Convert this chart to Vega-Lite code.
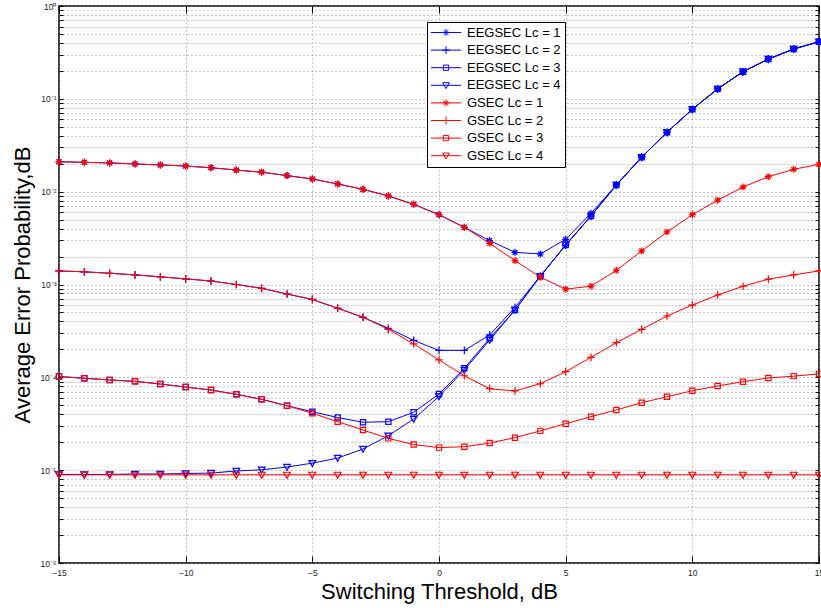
{
"$schema": "https://vega.github.io/schema/vega-lite/v6.json",
"width": 760, "height": 557,
"autosize": {"type": "none"},
"padding": {"left": 59, "top": 6, "right": 2, "bottom": 45},
"background": "white",
"config": {"font": "Liberation Sans", "view": {"stroke": "black", "strokeWidth": 1.5}},
"data": {"values": [
{"s":"EEGSEC Lc = 1","x":-15,"y":0.021},{"s":"EEGSEC Lc = 1","x":-14,"y":0.0207},{"s":"EEGSEC Lc = 1","x":-13,"y":0.0204},{"s":"EEGSEC Lc = 1","x":-12,"y":0.0199},{"s":"EEGSEC Lc = 1","x":-11,"y":0.0194},{"s":"EEGSEC Lc = 1","x":-10,"y":0.0189},{"s":"EEGSEC Lc = 1","x":-9,"y":0.0181},{"s":"EEGSEC Lc = 1","x":-8,"y":0.0171},{"s":"EEGSEC Lc = 1","x":-7,"y":0.0162},{"s":"EEGSEC Lc = 1","x":-6,"y":0.0149},{"s":"EEGSEC Lc = 1","x":-5,"y":0.0137},{"s":"EEGSEC Lc = 1","x":-4,"y":0.0121},{"s":"EEGSEC Lc = 1","x":-3,"y":0.0106},{"s":"EEGSEC Lc = 1","x":-2,"y":0.009},{"s":"EEGSEC Lc = 1","x":-1,"y":0.0073},{"s":"EEGSEC Lc = 1","x":0,"y":0.00565},{"s":"EEGSEC Lc = 1","x":1,"y":0.00413},{"s":"EEGSEC Lc = 1","x":2,"y":0.00297},{"s":"EEGSEC Lc = 1","x":3,"y":0.00222},{"s":"EEGSEC Lc = 1","x":4,"y":0.00213},{"s":"EEGSEC Lc = 1","x":5,"y":0.00307},{"s":"EEGSEC Lc = 1","x":6,"y":0.00585},{"s":"EEGSEC Lc = 1","x":7,"y":0.0118},{"s":"EEGSEC Lc = 1","x":8,"y":0.0235},{"s":"EEGSEC Lc = 1","x":9,"y":0.0436},{"s":"EEGSEC Lc = 1","x":10,"y":0.0772},{"s":"EEGSEC Lc = 1","x":11,"y":0.128},{"s":"EEGSEC Lc = 1","x":12,"y":0.196},{"s":"EEGSEC Lc = 1","x":13,"y":0.268},{"s":"EEGSEC Lc = 1","x":14,"y":0.344},{"s":"EEGSEC Lc = 1","x":15,"y":0.412},
{"s":"EEGSEC Lc = 2","x":-15,"y":0.0014},{"s":"EEGSEC Lc = 2","x":-14,"y":0.00137},{"s":"EEGSEC Lc = 2","x":-13,"y":0.00132},{"s":"EEGSEC Lc = 2","x":-12,"y":0.00127},{"s":"EEGSEC Lc = 2","x":-11,"y":0.00121},{"s":"EEGSEC Lc = 2","x":-10,"y":0.00115},{"s":"EEGSEC Lc = 2","x":-9,"y":0.00109},{"s":"EEGSEC Lc = 2","x":-8,"y":0.001},{"s":"EEGSEC Lc = 2","x":-7,"y":0.00091},{"s":"EEGSEC Lc = 2","x":-6,"y":0.00079},{"s":"EEGSEC Lc = 2","x":-5,"y":0.00069},{"s":"EEGSEC Lc = 2","x":-4,"y":0.000555},{"s":"EEGSEC Lc = 2","x":-3,"y":0.000444},{"s":"EEGSEC Lc = 2","x":-2,"y":0.000338},{"s":"EEGSEC Lc = 2","x":-1,"y":0.00025},{"s":"EEGSEC Lc = 2","x":0,"y":0.000195},{"s":"EEGSEC Lc = 2","x":1,"y":0.000195},{"s":"EEGSEC Lc = 2","x":2,"y":0.000286},{"s":"EEGSEC Lc = 2","x":3,"y":0.000568},{"s":"EEGSEC Lc = 2","x":4,"y":0.00123},{"s":"EEGSEC Lc = 2","x":5,"y":0.00266},{"s":"EEGSEC Lc = 2","x":6,"y":0.00547},{"s":"EEGSEC Lc = 2","x":7,"y":0.0118},{"s":"EEGSEC Lc = 2","x":8,"y":0.0235},{"s":"EEGSEC Lc = 2","x":9,"y":0.0436},{"s":"EEGSEC Lc = 2","x":10,"y":0.0772},{"s":"EEGSEC Lc = 2","x":11,"y":0.128},{"s":"EEGSEC Lc = 2","x":12,"y":0.196},{"s":"EEGSEC Lc = 2","x":13,"y":0.268},{"s":"EEGSEC Lc = 2","x":14,"y":0.344},{"s":"EEGSEC Lc = 2","x":15,"y":0.412},
{"s":"EEGSEC Lc = 3","x":-15,"y":0.000102},{"s":"EEGSEC Lc = 3","x":-14,"y":0.0000977},{"s":"EEGSEC Lc = 3","x":-13,"y":0.0000936},{"s":"EEGSEC Lc = 3","x":-12,"y":0.0000906},{"s":"EEGSEC Lc = 3","x":-11,"y":0.0000847},{"s":"EEGSEC Lc = 3","x":-10,"y":0.0000786},{"s":"EEGSEC Lc = 3","x":-9,"y":0.000073},{"s":"EEGSEC Lc = 3","x":-8,"y":0.0000656},{"s":"EEGSEC Lc = 3","x":-7,"y":0.000058},{"s":"EEGSEC Lc = 3","x":-6,"y":0.0000494},{"s":"EEGSEC Lc = 3","x":-5,"y":0.0000426},{"s":"EEGSEC Lc = 3","x":-4,"y":0.0000369},{"s":"EEGSEC Lc = 3","x":-3,"y":0.0000328},{"s":"EEGSEC Lc = 3","x":-2,"y":0.0000333},{"s":"EEGSEC Lc = 3","x":-1,"y":0.000042},{"s":"EEGSEC Lc = 3","x":0,"y":0.0000661},{"s":"EEGSEC Lc = 3","x":1,"y":0.000125},{"s":"EEGSEC Lc = 3","x":2,"y":0.000263},{"s":"EEGSEC Lc = 3","x":3,"y":0.000531},{"s":"EEGSEC Lc = 3","x":4,"y":0.00123},{"s":"EEGSEC Lc = 3","x":5,"y":0.00266},{"s":"EEGSEC Lc = 3","x":6,"y":0.00547},{"s":"EEGSEC Lc = 3","x":7,"y":0.0118},{"s":"EEGSEC Lc = 3","x":8,"y":0.0235},{"s":"EEGSEC Lc = 3","x":9,"y":0.0436},{"s":"EEGSEC Lc = 3","x":10,"y":0.0772},{"s":"EEGSEC Lc = 3","x":11,"y":0.128},{"s":"EEGSEC Lc = 3","x":12,"y":0.196},{"s":"EEGSEC Lc = 3","x":13,"y":0.268},{"s":"EEGSEC Lc = 3","x":14,"y":0.344},{"s":"EEGSEC Lc = 3","x":15,"y":0.412},
{"s":"EEGSEC Lc = 4","x":-15,"y":0.000009},{"s":"EEGSEC Lc = 4","x":-14,"y":0.000009},{"s":"EEGSEC Lc = 4","x":-13,"y":0.000009},{"s":"EEGSEC Lc = 4","x":-12,"y":0.0000091},{"s":"EEGSEC Lc = 4","x":-11,"y":0.0000091},{"s":"EEGSEC Lc = 4","x":-10,"y":0.0000092},{"s":"EEGSEC Lc = 4","x":-9,"y":0.0000093},{"s":"EEGSEC Lc = 4","x":-8,"y":0.0000098},{"s":"EEGSEC Lc = 4","x":-7,"y":0.0000101},{"s":"EEGSEC Lc = 4","x":-6,"y":0.0000108},{"s":"EEGSEC Lc = 4","x":-5,"y":0.0000119},{"s":"EEGSEC Lc = 4","x":-4,"y":0.0000135},{"s":"EEGSEC Lc = 4","x":-3,"y":0.0000169},{"s":"EEGSEC Lc = 4","x":-2,"y":0.0000235},{"s":"EEGSEC Lc = 4","x":-1,"y":0.0000356},{"s":"EEGSEC Lc = 4","x":0,"y":0.0000621},{"s":"EEGSEC Lc = 4","x":1,"y":0.00012},{"s":"EEGSEC Lc = 4","x":2,"y":0.000252},{"s":"EEGSEC Lc = 4","x":3,"y":0.000531},{"s":"EEGSEC Lc = 4","x":4,"y":0.00123},{"s":"EEGSEC Lc = 4","x":5,"y":0.00266},{"s":"EEGSEC Lc = 4","x":6,"y":0.00547},{"s":"EEGSEC Lc = 4","x":7,"y":0.0118},{"s":"EEGSEC Lc = 4","x":8,"y":0.0235},{"s":"EEGSEC Lc = 4","x":9,"y":0.0436},{"s":"EEGSEC Lc = 4","x":10,"y":0.0772},{"s":"EEGSEC Lc = 4","x":11,"y":0.128},{"s":"EEGSEC Lc = 4","x":12,"y":0.196},{"s":"EEGSEC Lc = 4","x":13,"y":0.268},{"s":"EEGSEC Lc = 4","x":14,"y":0.344},{"s":"EEGSEC Lc = 4","x":15,"y":0.412},
{"s":"GSEC Lc = 1","x":-15,"y":0.021},{"s":"GSEC Lc = 1","x":-14,"y":0.0207},{"s":"GSEC Lc = 1","x":-13,"y":0.0204},{"s":"GSEC Lc = 1","x":-12,"y":0.0199},{"s":"GSEC Lc = 1","x":-11,"y":0.0194},{"s":"GSEC Lc = 1","x":-10,"y":0.0189},{"s":"GSEC Lc = 1","x":-9,"y":0.0181},{"s":"GSEC Lc = 1","x":-8,"y":0.0171},{"s":"GSEC Lc = 1","x":-7,"y":0.0162},{"s":"GSEC Lc = 1","x":-6,"y":0.0149},{"s":"GSEC Lc = 1","x":-5,"y":0.0137},{"s":"GSEC Lc = 1","x":-4,"y":0.0121},{"s":"GSEC Lc = 1","x":-3,"y":0.0106},{"s":"GSEC Lc = 1","x":-2,"y":0.009},{"s":"GSEC Lc = 1","x":-1,"y":0.0073},{"s":"GSEC Lc = 1","x":0,"y":0.00565},{"s":"GSEC Lc = 1","x":1,"y":0.00413},{"s":"GSEC Lc = 1","x":2,"y":0.00278},{"s":"GSEC Lc = 1","x":3,"y":0.00181},{"s":"GSEC Lc = 1","x":4,"y":0.0012},{"s":"GSEC Lc = 1","x":5,"y":0.00089},{"s":"GSEC Lc = 1","x":6,"y":0.00096},{"s":"GSEC Lc = 1","x":7,"y":0.00142},{"s":"GSEC Lc = 1","x":8,"y":0.0023},{"s":"GSEC Lc = 1","x":9,"y":0.00368},{"s":"GSEC Lc = 1","x":10,"y":0.00565},{"s":"GSEC Lc = 1","x":11,"y":0.0081},{"s":"GSEC Lc = 1","x":12,"y":0.0112},{"s":"GSEC Lc = 1","x":13,"y":0.0145},{"s":"GSEC Lc = 1","x":14,"y":0.0174},{"s":"GSEC Lc = 1","x":15,"y":0.0197},
{"s":"GSEC Lc = 2","x":-15,"y":0.0014},{"s":"GSEC Lc = 2","x":-14,"y":0.00137},{"s":"GSEC Lc = 2","x":-13,"y":0.00132},{"s":"GSEC Lc = 2","x":-12,"y":0.00127},{"s":"GSEC Lc = 2","x":-11,"y":0.00121},{"s":"GSEC Lc = 2","x":-10,"y":0.00115},{"s":"GSEC Lc = 2","x":-9,"y":0.00109},{"s":"GSEC Lc = 2","x":-8,"y":0.001},{"s":"GSEC Lc = 2","x":-7,"y":0.00091},{"s":"GSEC Lc = 2","x":-6,"y":0.00079},{"s":"GSEC Lc = 2","x":-5,"y":0.00069},{"s":"GSEC Lc = 2","x":-4,"y":0.000555},{"s":"GSEC Lc = 2","x":-3,"y":0.000444},{"s":"GSEC Lc = 2","x":-2,"y":0.000329},{"s":"GSEC Lc = 2","x":-1,"y":0.000229},{"s":"GSEC Lc = 2","x":0,"y":0.000154},{"s":"GSEC Lc = 2","x":1,"y":0.000104},{"s":"GSEC Lc = 2","x":2,"y":0.0000754},{"s":"GSEC Lc = 2","x":3,"y":0.0000713},{"s":"GSEC Lc = 2","x":4,"y":0.0000853},{"s":"GSEC Lc = 2","x":5,"y":0.000115},{"s":"GSEC Lc = 2","x":6,"y":0.000164},{"s":"GSEC Lc = 2","x":7,"y":0.000236},{"s":"GSEC Lc = 2","x":8,"y":0.000329},{"s":"GSEC Lc = 2","x":9,"y":0.000458},{"s":"GSEC Lc = 2","x":10,"y":0.000601},{"s":"GSEC Lc = 2","x":11,"y":0.000771},{"s":"GSEC Lc = 2","x":12,"y":0.000957},{"s":"GSEC Lc = 2","x":13,"y":0.00114},{"s":"GSEC Lc = 2","x":14,"y":0.00127},{"s":"GSEC Lc = 2","x":15,"y":0.0014},
{"s":"GSEC Lc = 3","x":-15,"y":0.000102},{"s":"GSEC Lc = 3","x":-14,"y":0.0000977},{"s":"GSEC Lc = 3","x":-13,"y":0.0000936},{"s":"GSEC Lc = 3","x":-12,"y":0.0000906},{"s":"GSEC Lc = 3","x":-11,"y":0.0000847},{"s":"GSEC Lc = 3","x":-10,"y":0.0000786},{"s":"GSEC Lc = 3","x":-9,"y":0.000073},{"s":"GSEC Lc = 3","x":-8,"y":0.0000656},{"s":"GSEC Lc = 3","x":-7,"y":0.000058},{"s":"GSEC Lc = 3","x":-6,"y":0.0000494},{"s":"GSEC Lc = 3","x":-5,"y":0.000041},{"s":"GSEC Lc = 3","x":-4,"y":0.0000333},{"s":"GSEC Lc = 3","x":-3,"y":0.0000271},{"s":"GSEC Lc = 3","x":-2,"y":0.000022},{"s":"GSEC Lc = 3","x":-1,"y":0.0000189},{"s":"GSEC Lc = 3","x":0,"y":0.0000175},{"s":"GSEC Lc = 3","x":1,"y":0.0000179},{"s":"GSEC Lc = 3","x":2,"y":0.0000196},{"s":"GSEC Lc = 3","x":3,"y":0.0000224},{"s":"GSEC Lc = 3","x":4,"y":0.0000265},{"s":"GSEC Lc = 3","x":5,"y":0.0000317},{"s":"GSEC Lc = 3","x":6,"y":0.0000377},{"s":"GSEC Lc = 3","x":7,"y":0.0000445},{"s":"GSEC Lc = 3","x":8,"y":0.0000533},{"s":"GSEC Lc = 3","x":9,"y":0.0000618},{"s":"GSEC Lc = 3","x":10,"y":0.0000718},{"s":"GSEC Lc = 3","x":11,"y":0.0000806},{"s":"GSEC Lc = 3","x":12,"y":0.0000897},{"s":"GSEC Lc = 3","x":13,"y":0.0000984},{"s":"GSEC Lc = 3","x":14,"y":0.000103},{"s":"GSEC Lc = 3","x":15,"y":0.000109},
{"s":"GSEC Lc = 4","x":-15,"y":0.0000089},{"s":"GSEC Lc = 4","x":-14,"y":0.0000089},{"s":"GSEC Lc = 4","x":-13,"y":0.0000089},{"s":"GSEC Lc = 4","x":-12,"y":0.0000089},{"s":"GSEC Lc = 4","x":-11,"y":0.0000089},{"s":"GSEC Lc = 4","x":-10,"y":0.0000089},{"s":"GSEC Lc = 4","x":-9,"y":0.0000089},{"s":"GSEC Lc = 4","x":-8,"y":0.0000089},{"s":"GSEC Lc = 4","x":-7,"y":0.0000089},{"s":"GSEC Lc = 4","x":-6,"y":0.0000089},{"s":"GSEC Lc = 4","x":-5,"y":0.0000089},{"s":"GSEC Lc = 4","x":-4,"y":0.0000089},{"s":"GSEC Lc = 4","x":-3,"y":0.0000089},{"s":"GSEC Lc = 4","x":-2,"y":0.0000089},{"s":"GSEC Lc = 4","x":-1,"y":0.0000089},{"s":"GSEC Lc = 4","x":0,"y":0.0000089},{"s":"GSEC Lc = 4","x":1,"y":0.0000089},{"s":"GSEC Lc = 4","x":2,"y":0.0000089},{"s":"GSEC Lc = 4","x":3,"y":0.0000089},{"s":"GSEC Lc = 4","x":4,"y":0.0000089},{"s":"GSEC Lc = 4","x":5,"y":0.0000089},{"s":"GSEC Lc = 4","x":6,"y":0.0000089},{"s":"GSEC Lc = 4","x":7,"y":0.0000089},{"s":"GSEC Lc = 4","x":8,"y":0.0000089},{"s":"GSEC Lc = 4","x":9,"y":0.0000089},{"s":"GSEC Lc = 4","x":10,"y":0.0000089},{"s":"GSEC Lc = 4","x":11,"y":0.0000089},{"s":"GSEC Lc = 4","x":12,"y":0.0000089},{"s":"GSEC Lc = 4","x":13,"y":0.0000089},{"s":"GSEC Lc = 4","x":14,"y":0.0000089},{"s":"GSEC Lc = 4","x":15,"y":0.0000089}
]},
"layer": [
{"mark": {"type": "line", "strokeWidth": 1},
 "encoding": {
  "x": {"field": "x", "type": "quantitative", "scale": {"domain": [-15, 15], "nice": false, "zero": false},
    "axis": {"values": [-15, -10, -5, 0, 5, 10, 15], "grid": true, "gridColor": "#8a8a8a", "gridDash": [1, 3], "gridWidth": 1, "domain": false, "tickSize": -7, "tickColor": "black", "tickWidth": 1, "labelPadding": 12, "labelFontSize": 8.5, "labelColor": "#222", "labelFlush": false, "labelOverlap": false, "title": "Switching Threshold, dB", "titleFontSize": 22, "titleFontWeight": "normal", "titleColor": "black", "titleX": 380, "titleY": 35, "titleBaseline": "alphabetic", "titleAlign": "center"}},
  "y": {"field": "y", "type": "quantitative", "scale": {"type": "log", "domain": [0.000001, 1], "nice": false},
    "axis": {"values": [1e-6,2e-6,3e-6,4e-6,5e-6,6e-6,7e-6,8e-6,9e-6,1e-5,2e-5,3e-5,4e-5,5e-5,6e-5,7e-5,8e-5,9e-5,1e-4,2e-4,3e-4,4e-4,5e-4,6e-4,7e-4,8e-4,9e-4,1e-3,2e-3,3e-3,4e-3,5e-3,6e-3,7e-3,8e-3,9e-3,1e-2,2e-2,3e-2,4e-2,5e-2,6e-2,7e-2,8e-2,9e-2,0.1,0.2,0.3,0.4,0.5,0.6,0.7,0.8,0.9,1],
      "labelExpr": "abs(log(datum.value)/LN10 - round(log(datum.value)/LN10)) < 0.01 ? '10' + (round(log(datum.value)/LN10) == 0 ? '⁰' : '⁻' + ['⁰','¹','²','³','⁴','⁵','⁶'][-round(log(datum.value)/LN10)]) : ''",
      "grid": true, "gridColor": "#8a8a8a", "gridDash": [1, 3], "gridWidth": 1, "domain": false, "tickSize": -4, "tickColor": "black", "tickWidth": 1, "labelPadding": 7, "labelFontSize": 8.5, "labelColor": "#222", "labelOverlap": false, "labelFlush": false, "labelBaseline": "middle",
      "title": "Average Error Probability,dB", "titleFontSize": 22, "titleFontWeight": "normal", "titleColor": "black", "titleX": -30, "titleY": 278.5, "titleAngle": -90, "titleBaseline": "alphabetic", "titleAlign": "center",
      "encode": {"ticks": {"update": {"x2": {"signal": "abs(log(datum.value)/LN10 - round(log(datum.value)/LN10)) < 0.01 ? 7 : 4"}}}}}},
  "color": {"field": "s", "type": "nominal", "scale": {"domain": ["EEGSEC Lc = 1","EEGSEC Lc = 2","EEGSEC Lc = 3","EEGSEC Lc = 4","GSEC Lc = 1","GSEC Lc = 2","GSEC Lc = 3","GSEC Lc = 4"], "range": ["#0000ff","#0000ff","#0000ff","#0000ff","#ff0000","#ff0000","#ff0000","#ff0000"]},
    "legend": {"orient": "none", "legendX": 368, "legendY": 16, "title": null, "fillColor": "white", "strokeColor": "black", "padding": 4, "rowPadding": 3.6, "labelFontSize": 13, "labelColor": "black", "labelFont": "Liberation Sans", "symbolSize": 49, "symbolStrokeWidth": 1, "symbolOffset": 8.5, "labelOffset": 14.5,
      "encode": {"symbols": {"update": {"fill": {"value": "transparent"}, "shape": {"signal": "'M-4.3,0L4.3,0' + (substring(datum.value, length(datum.value)-1) == '1' ? 'M-1,0L1,0M0,-1L0,1M-0.7,-0.7L0.7,0.7M-0.7,0.7L0.7,-0.7' : substring(datum.value, length(datum.value)-1) == '2' ? 'M-1.1,0L1.1,0M0,-1.1L0,1.1' : substring(datum.value, length(datum.value)-1) == '3' ? 'M-0.75,-0.75L0.75,-0.75L0.75,0.75L-0.75,0.75Z' : 'M-0.95,-0.75L0.95,-0.75L0,0.95Z')"}}}}}}
 }},
{"mark": {"type": "point", "filled": false, "size": 49, "strokeWidth": 1.2, "opacity": 1},
 "encoding": {
  "x": {"field": "x", "type": "quantitative", "scale": {"domain": [-15, 15], "nice": false, "zero": false},
    "axis": {"orient": "top", "values": [-15, -10, -5, 0, 5, 10, 15], "labels": false, "grid": false, "domain": false, "tickSize": -7, "tickColor": "black", "title": null}},
  "y": {"field": "y", "type": "quantitative", "scale": {"type": "log", "domain": [0.000001, 1], "nice": false},
    "axis": {"orient": "right", "values": [1e-6,2e-6,3e-6,4e-6,5e-6,6e-6,7e-6,8e-6,9e-6,1e-5,2e-5,3e-5,4e-5,5e-5,6e-5,7e-5,8e-5,9e-5,1e-4,2e-4,3e-4,4e-4,5e-4,6e-4,7e-4,8e-4,9e-4,1e-3,2e-3,3e-3,4e-3,5e-3,6e-3,7e-3,8e-3,9e-3,1e-2,2e-2,3e-2,4e-2,5e-2,6e-2,7e-2,8e-2,9e-2,0.1,0.2,0.3,0.4,0.5,0.6,0.7,0.8,0.9,1], "labels": false, "grid": false, "domain": false, "tickSize": -4, "tickColor": "black", "title": null,
      "encode": {"ticks": {"update": {"x2": {"signal": "abs(log(datum.value)/LN10 - round(log(datum.value)/LN10)) < 0.01 ? -7 : -4"}}}}}},
  "color": {"field": "s", "type": "nominal", "scale": {"domain": ["EEGSEC Lc = 1","EEGSEC Lc = 2","EEGSEC Lc = 3","EEGSEC Lc = 4","GSEC Lc = 1","GSEC Lc = 2","GSEC Lc = 3","GSEC Lc = 4"], "range": ["#0000ff","#0000ff","#0000ff","#0000ff","#ff0000","#ff0000","#ff0000","#ff0000"]},
    "legend": {"orient": "none", "legendX": 368, "legendY": 16, "title": null, "fillColor": "white", "strokeColor": "black", "padding": 4, "rowPadding": 3.6, "labelFontSize": 13, "labelColor": "black", "labelFont": "Liberation Sans", "symbolSize": 49, "symbolStrokeWidth": 1, "symbolOffset": 8.5, "labelOffset": 14.5,
      "encode": {"symbols": {"update": {"fill": {"value": "transparent"}, "shape": {"signal": "'M-4.3,0L4.3,0' + (substring(datum.value, length(datum.value)-1) == '1' ? 'M-1,0L1,0M0,-1L0,1M-0.7,-0.7L0.7,0.7M-0.7,0.7L0.7,-0.7' : substring(datum.value, length(datum.value)-1) == '2' ? 'M-1.1,0L1.1,0M0,-1.1L0,1.1' : substring(datum.value, length(datum.value)-1) == '3' ? 'M-0.75,-0.75L0.75,-0.75L0.75,0.75L-0.75,0.75Z' : 'M-0.95,-0.75L0.95,-0.75L0,0.95Z')"}}}}}},
  "shape": {"field": "s", "type": "nominal", "legend": null, "scale": {"domain": ["GSEC Lc = 1","GSEC Lc = 2","GSEC Lc = 3","GSEC Lc = 4","EEGSEC Lc = 1","EEGSEC Lc = 2","EEGSEC Lc = 3","EEGSEC Lc = 4"], "range": ["M-1,0L1,0M0,-1L0,1M-0.7,-0.7L0.7,0.7M-0.7,0.7L0.7,-0.7","M-1.1,0L1.1,0M0,-1.1L0,1.1","M-0.75,-0.75L0.75,-0.75L0.75,0.75L-0.75,0.75Z","M-0.95,-0.75L0.95,-0.75L0,0.95Z","M-1,0L1,0M0,-1L0,1M-0.7,-0.7L0.7,0.7M-0.7,0.7L0.7,-0.7","M-1.1,0L1.1,0M0,-1.1L0,1.1","M-0.75,-0.75L0.75,-0.75L0.75,0.75L-0.75,0.75Z","M-0.95,-0.75L0.95,-0.75L0,0.95Z"]}}
 }}
],
"resolve": {"axis": {"x": "independent", "y": "independent"}}
}
